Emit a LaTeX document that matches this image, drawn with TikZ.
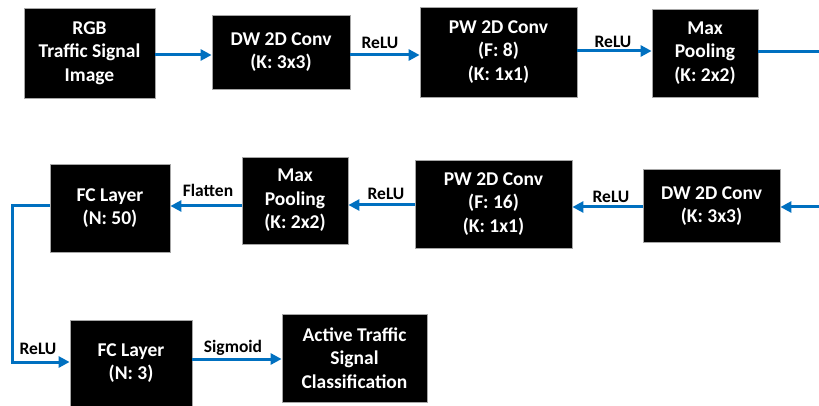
\documentclass[tikz,border=0pt]{standalone}
\usepackage{fontspec}
\setmainfont{Carlito}
\usetikzlibrary{arrows.meta}
\definecolor{arrblue}{RGB}{0,112,192}
\begin{document}
\begin{tikzpicture}[x=1pt,y=-1pt,
  blk/.style={fill=black,draw=gray!70,line width=0.8pt,text=white,align=center,inner sep=0pt,
    font=\fontsize{19.5}{23.5}\selectfont\bfseries},
  arr/.style={draw=arrblue,line width=3pt,-{Triangle[length=11pt,width=11pt]}},
  ln/.style={draw=arrblue,line width=3pt},
  lbl/.style={inner sep=0pt,font=\fontsize{17.5}{20}\selectfont\bfseries,text=black}]
\useasboundingbox (0,0) rectangle (819,406);
% row 1
\node[blk,minimum width=131pt,minimum height=90pt] (rgb) at (89.5,53) {RGB\\Traffic Signal\\Image};
\node[blk,minimum width=138pt,minimum height=74pt] (dw1) at (281,52) {DW 2D Conv\\(K: 3x3)};
\node[blk,minimum width=157pt,minimum height=90pt] (pw1) at (498.5,52) {PW 2D Conv\\(F: 8)\\(K: 1x1)};
\node[blk,minimum width=106pt,minimum height=88pt] (mp1) at (705,53) {Max\\Pooling\\(K: 2x2)};
\coordinate (r1) at (819,52);
% row 2
\node[blk,minimum width=120pt,minimum height=88pt] (fc50) at (110,208) {FC Layer\\(N: 50)};
\node[blk,minimum width=106pt,minimum height=87pt] (mp2) at (295,200.5) {Max\\Pooling\\(K: 2x2)};
\node[blk,minimum width=157pt,minimum height=88pt] (pw2) at (493.5,204) {PW 2D Conv\\(F: 16)\\(K: 1x1)};
\node[blk,minimum width=137pt,minimum height=73pt] (dw2) at (711.5,206) {DW 2D Conv\\(K: 3x3)};
\coordinate (r2) at (819,207);
% row 3
\node[blk,minimum width=122pt,minimum height=86pt] (fc3) at (131,363) {FC Layer\\(N: 3)};
\node[blk,minimum width=145pt,minimum height=88pt] (out) at (354.5,358) {Active Traffic\\Signal\\Classification};
\coordinate (c1) at (12,206);
\coordinate (c2) at (12,362);
% arrows row 1
\draw[arr] (rgb.east |- 0,55) -- (dw1.west |- 0,55);
\draw[arr] (dw1.east |- 0,55) -- (pw1.west |- 0,55);
\draw[arr] (pw1.east |- 0,51) -- (mp1.west |- 0,51);
\draw[ln] (mp1.east |- r1) -- (r1);
% arrows row 2
\draw[arr] (r2) -- (dw2.east |- r2);
\draw[arr] (dw2.west |- 0,207) -- (pw2.east |- 0,207);
\draw[arr] (pw2.west |- 0,205) -- (mp2.east |- 0,205);
\draw[arr] (mp2.west |- 0,206) -- (fc50.east |- 0,206);
% left connector
\draw[arr] (fc50.west |- c1) -- (c1) -- (c2) -- (fc3.west |- c2);
\draw[arr] (fc3.east |- 0,359) -- (out.west |- 0,359);
% labels
\node[lbl] (l1) at (380,43) {ReLU};
\node[lbl] (l2) at (613,42) {ReLU};
\node[lbl] (l3) at (208,190) {Flatten};
\node[lbl] (l4) at (386,194) {ReLU};
\node[lbl] (l5) at (611,197) {ReLU};
\node[lbl] (l6) at (38,349) {ReLU};
\node[lbl] (l7) at (233,348) {Sigmoid};
\end{tikzpicture}
\end{document}
